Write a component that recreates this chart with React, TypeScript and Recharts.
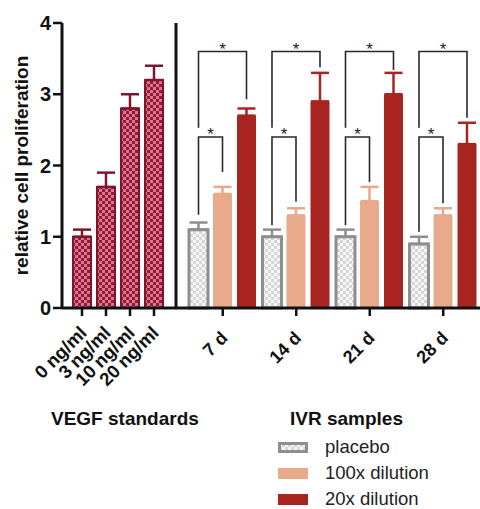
import React from 'react';
import { BarChart, Bar, XAxis, YAxis, ErrorBar } from 'recharts';

// VEGF standards
const standards = ['0 ng/ml', '3 ng/ml', '10 ng/ml', '20 ng/ml'];
const stdMean = [1.0, 1.7, 2.8, 3.2];
const stdSd = [0.1, 0.2, 0.2, 0.2];

// IVR samples
const days = ['7 d', '14 d', '21 d', '28 d'];
const placebo = [1.1, 1.0, 1.0, 0.9];
const placeboSd = [0.1, 0.1, 0.1, 0.1];
const dil100 = [1.6, 1.3, 1.5, 1.3];
const dil100Sd = [0.1, 0.1, 0.2, 0.1];
const dil20 = [2.7, 2.9, 3.0, 2.3];
const dil20Sd = [0.1, 0.4, 0.3, 0.3];

const yTicks = [0, 1, 2, 3, 4];

// significance brackets (in y units): placebo vs 100x, placebo vs 20x
const sig100Top = [2.4, 2.4, 2.4, 2.4];
const sig100Left = [1.31, 1.16, 1.16, 1.07];
const sig100Right = [1.91, 1.49, 1.77, 1.47];
const sig20Top = [3.6, 3.6, 3.6, 3.6];
const sig20Left = [2.53, 2.53, 2.53, 2.53];
const sig20Right = [2.93, 3.38, 3.34, 2.67];

const stdData = standards.map((label, i) => ({ label, mean: stdMean[i], sd: stdSd[i] }));
const ivrData = days.map((day, i) => ({
  day,
  placebo: placebo[i], placeboSd: placeboSd[i],
  dil100: dil100[i], dil100Sd: dil100Sd[i],
  dil20: dil20[i], dil20Sd: dil20Sd[i],
  s100: [sig100Left[i], sig100Top[i], sig100Right[i]],
  s20: [sig20Left[i], sig20Top[i], sig20Right[i]],
}));

const FONT = '"Liberation Sans", Arial, Helvetica, sans-serif';
const INK = '#111';
const H = 400;
const TOP = 23;
const X_AXIS_H = 92;
const BAR_GAP = 5;

const series = [
  { key: 'placebo', sd: 'placeboSd', name: 'placebo', fill: 'url(#placeboPat)', stroke: '#8e8e8e', sw: 3 },
  { key: 'dil100', sd: 'dil100Sd', name: '100x dilution', fill: '#e9aa8b', stroke: '#e9aa8b', sw: 0 },
  { key: 'dil20', sd: 'dil20Sd', name: '20x dilution', fill: '#a82420', stroke: '#a82420', sw: 0 },
];

const Patterns = ({ suffix = '' }: { suffix?: string }) => (
  <defs>
    <pattern id={'stdPat' + suffix} width="6" height="6" patternUnits="userSpaceOnUse">
      <rect width="6" height="6" fill="#8e1d3e" />
      <rect width="3" height="3" fill="#e07488" />
      <rect x="3" y="3" width="3" height="3" fill="#e07488" />
    </pattern>
    <pattern id={'placeboPat' + suffix} width="6" height="6" patternUnits="userSpaceOnUse">
      <rect width="6" height="6" fill="#f6f6f6" />
      <rect width="3" height="3" fill="#d6d6d6" />
      <rect x="3" y="3" width="3" height="3" fill="#d6d6d6" />
    </pattern>
  </defs>
);

const StdTick = ({ x, y, payload }: any) => (
  <g transform={`translate(${x + 6},${y + 16})`}>
    <text textAnchor="end" transform="rotate(-45)" fontSize={18.5} fontWeight={700} fill={INK} fontFamily={FONT}>
      {payload.value}
    </text>
  </g>
);

const DayTick = ({ x, y, payload }: any) => (
  <g transform={`translate(${x + 6},${y + 21})`}>
    <text textAnchor="end" transform="rotate(-45)" fontSize={18} fontWeight={700} fill={INK} fontFamily={FONT}>
      {payload.value}
    </text>
  </g>
);

// last bar of each group also draws the significance brackets of that group
const BracketBar = (props: any) => {
  const { x, y, width, height, fill } = props;
  const row = props.payload ?? props;
  const base = y + height;
  const k = height / row.dil20;
  const py = (v: number) => base - v * k;
  const step = width + BAR_GAP;
  const c2 = x + width / 2;
  const c1 = c2 - step;
  const c0 = c2 - 2 * step;
  const [a1, t1, b1] = row.s100;
  const [a2, t2, b2] = row.s20;
  const line = { fill: 'none', stroke: '#2a2a2a', strokeWidth: 1.6 };
  return (
    <g>
      <rect x={x} y={y} width={width} height={height} fill={fill} />
      <path d={`M${c0},${py(a1)}V${py(t1)}H${c1}V${py(b1)}`} {...line} />
      <path d={`M${c0},${py(a2)}V${py(t2)}H${c2}V${py(b2)}`} {...line} />
      <text x={(c0 + c1) / 2} y={py(t1) + 3} textAnchor="middle" fontSize={17} fill="#222" fontFamily={FONT}>*</text>
      <text x={(c0 + c2) / 2} y={py(t2) + 3} textAnchor="middle" fontSize={17} fill="#222" fontFamily={FONT}>*</text>
    </g>
  );
};

const axisLine = { stroke: INK, strokeWidth: 3 };
const tickLine = { stroke: INK, strokeWidth: 2.5 };

export default function App() {
  return (
    <div style={{ position: 'relative', width: 480, height: 509, fontFamily: FONT, background: '#fff' }}>
      <style>{'body{margin:0}'}</style>

      {/* titles and legend */}
      <svg width={480} height={509} style={{ position: 'absolute', left: 0, top: 0 }}>
        <Patterns suffix="L" />
        <text x={51} y={425} fontSize={19} fontWeight={700} fill={INK}>VEGF standards</text>
        <text x={290} y={425} fontSize={19} fontWeight={700} fill={INK}>IVR samples</text>
        {series.map((s, i) => {
          const base = 453 + i * 26;
          return (
            <g key={s.key}>
              <rect
                x={s.sw ? 279.5 : 278}
                y={base - 11 + (s.sw ? 1.5 : 0)}
                width={s.sw ? 27 : 30}
                height={s.sw ? 8 : 11}
                fill={s.key === 'placebo' ? 'url(#placeboPatL)' : s.fill}
                stroke={s.sw ? s.stroke : 'none'}
                strokeWidth={s.sw}
              />
              <text x={325} y={base} fontSize={18.5} fill="#222">{s.name}</text>
            </g>
          );
        })}
      </svg>

      {/* VEGF standards */}
      <div style={{ position: 'absolute', left: 0, top: 0 }}>
        <BarChart width={177} height={H} data={stdData} margin={{ top: TOP, right: 1, bottom: 0, left: 0 }} barSize={18}>
          <Patterns />
          <XAxis
            dataKey="label"
            interval={0}
            height={X_AXIS_H}
            tickSize={8}
            axisLine={axisLine}
            tickLine={tickLine}
            padding={{ left: 8, right: 10 }}
            tick={StdTick}
          />
          <YAxis
            domain={[0, 4]}
            ticks={yTicks}
            width={62}
            tickSize={9}
            axisLine={axisLine}
            tickLine={tickLine}
            tick={{ fontSize: 20, fontWeight: 700, fill: INK, fontFamily: FONT }}
            label={{
              value: 'relative cell proliferation',
              angle: -90,
              position: 'insideLeft',
              offset: 21,
              style: { textAnchor: 'middle', fontSize: 19, fontWeight: 700, fill: INK, fontFamily: FONT },
            }}
          />
          <Bar dataKey="mean" fill="url(#stdPat)" stroke="#7d1430" strokeWidth={2} isAnimationActive={false}>
            <ErrorBar dataKey={(d: any) => [0, d.sd]} width={9} strokeWidth={2.5} stroke="#7d1430" direction="y" isAnimationActive={false} />
          </Bar>
        </BarChart>
      </div>

      {/* IVR samples */}
      <div style={{ position: 'absolute', left: 172, top: 0 }}>
        <BarChart width={308} height={H} data={ivrData} margin={{ top: TOP, right: 0, bottom: 0, left: 0 }} barSize={19} barGap={BAR_GAP}>
          <Patterns />
          <XAxis
            dataKey="day"
            interval={0}
            height={X_AXIS_H}
            tickSize={8}
            axisLine={axisLine}
            tickLine={tickLine}
            padding={{ left: 10, right: 0 }}
            tick={DayTick}
          />
          <YAxis domain={[0, 4]} ticks={yTicks} width={4} tick={false} tickLine={false} axisLine={axisLine} />
          {series.map((s) => (
            <Bar
              key={s.key}
              dataKey={s.key}
              name={s.name}
              fill={s.fill}
              stroke={s.sw ? s.stroke : 'none'}
              strokeWidth={s.sw}
              isAnimationActive={false}
              shape={s.key === 'dil20' ? BracketBar : undefined}
            >
              <ErrorBar
                dataKey={(d: any) => [0, d[s.sd]]}
                width={9}
                strokeWidth={2.5}
                stroke={s.stroke}
                direction="y"
                isAnimationActive={false}
              />
            </Bar>
          ))}
        </BarChart>
      </div>
    </div>
  );
}
